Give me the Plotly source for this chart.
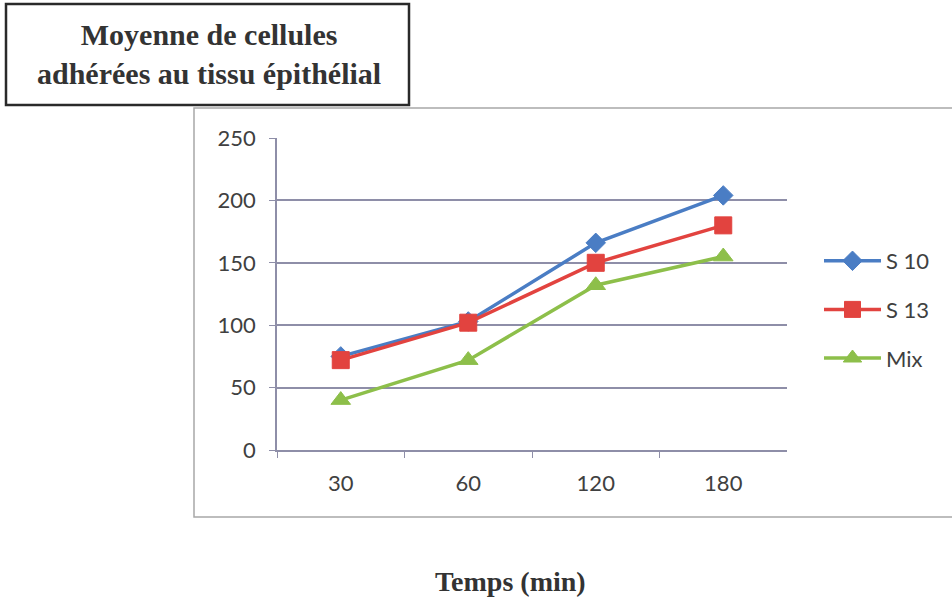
import plotly.graph_objects as go

# Adhesion over time for each strain
temps = ["30", "60", "120", "180"]
s10 = [75, 103, 166, 204]
s13 = [72, 102, 150, 180]
mix = [40, 72, 132, 155]

W, H = 952, 602


def px_x(x):
    return x / W


def px_y(y):
    return (H - y) / H


series = [
    ("S 10", s10, "#4A7DC4", "diamond", 15),
    ("S 13", s13, "#E2433F", "square", 17),
    ("Mix", mix, "#8DBF4A", "triangle-up", 17),
]

fig = go.Figure()
for i, (name, vals, col, sym, sz) in enumerate(series):
    fig.add_trace(go.Scatter(
        x=temps, y=vals, name=name, mode="lines+markers",
        line=dict(color=col, width=3.5),
        marker=dict(symbol=sym, size=sz, color=col,
                    line=dict(color=col, width=1)),
        legendgroup=f"g{i}",
    ))

grid_col = "#8E8EA8"
label_font = dict(family="Lato, Open Sans, sans-serif", size=22, color="#404040")
serif = "Liberation Serif, Times New Roman, serif"

fig.update_layout(
    width=W, height=H, autosize=False,
    margin=dict(l=0, r=0, t=0, b=0, pad=0, autoexpand=False),
    paper_bgcolor="white", plot_bgcolor="white",
    font=label_font,
    showlegend=True,
    legend=dict(
        x=px_x(819), y=px_y(240), xanchor="left", yanchor="top",
        itemwidth=57, tracegroupgap=17,
        font=label_font,
        bgcolor="rgba(0,0,0,0)",
    ),
    xaxis=dict(
        type="category", range=[-0.5, 3.5],
        domain=[px_x(277), px_x(787)],
        showgrid=False, showline=True, linecolor=grid_col, linewidth=1.5,
        ticks="outside", tickson="boundaries", ticklen=6, tickcolor=grid_col,
        tickfont=label_font, automargin=False, ticklabelstandoff=13,
        anchor="y",
    ),
    yaxis=dict(
        range=[0, 250], dtick=50,
        domain=[px_y(450), px_y(138)],
        showgrid=True, gridcolor=grid_col, gridwidth=1.5,
        showline=True, linecolor=grid_col, linewidth=1.5,
        ticks="outside", ticklen=6, tickcolor=grid_col,
        tickfont=label_font, automargin=False, ticklabelstandoff=9,
        zeroline=False,
    ),
    shapes=[
        # chart frame
        dict(type="rect", xref="paper", yref="paper",
             x0=px_x(194), x1=px_x(960), y0=px_y(517), y1=px_y(108),
             line=dict(color="#A8A8A8", width=1.5), fillcolor="rgba(0,0,0,0)",
             layer="below"),
        # title box
        dict(type="rect", xref="paper", yref="paper",
             x0=px_x(6), x1=px_x(409), y0=px_y(105), y1=px_y(4),
             line=dict(color="#2A2A2A", width=2.5), fillcolor="white",
             layer="above"),
    ],
    annotations=[
        dict(text="<b>Moyenne de cellules<br>adhérées au tissu épithélial</b>",
             xref="paper", yref="paper", x=px_x(209), y=px_y(54),
             xanchor="center", yanchor="middle", showarrow=False,
             font=dict(family=serif, size=30, color="#333333"),
             align="center"),
        dict(text="<b>Temps (min)</b>",
             xref="paper", yref="paper", x=px_x(510), y=px_y(581),
             xanchor="center", yanchor="middle", showarrow=False,
             font=dict(family=serif, size=28, color="#333333")),
    ],
)

fig.write_html("out.html")
